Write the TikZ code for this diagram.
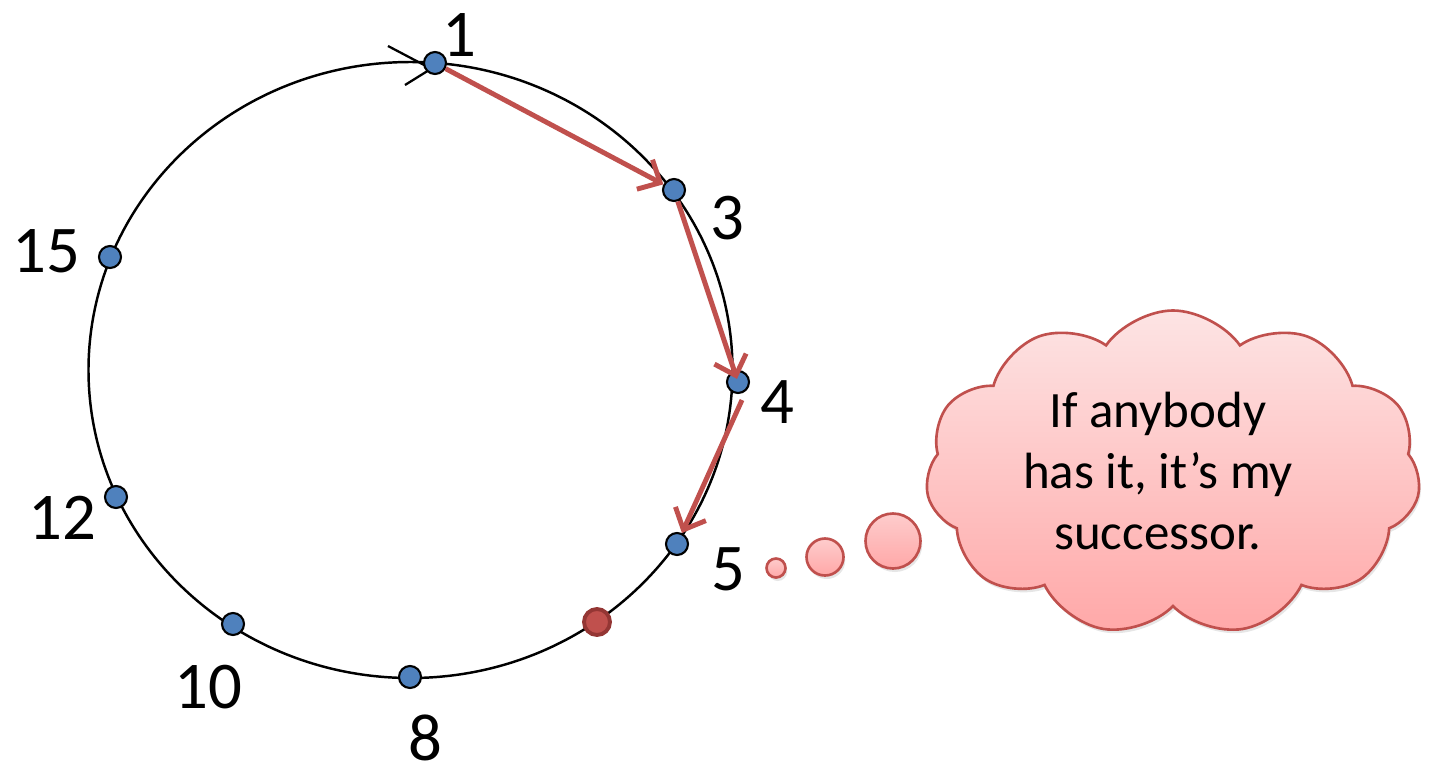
\documentclass[tikz,border=0pt]{standalone}
\usepackage{fontspec}
\setmainfont{Carlito}
\usetikzlibrary{shapes.symbols,arrows.meta,shadows}
\definecolor{nodeblue}{HTML}{4F81BD}
\definecolor{arrred}{HTML}{C0504D}
\definecolor{darkred}{HTML}{943634}
\definecolor{cloudtop}{HTML}{FDE4E4}
\definecolor{cloudbot}{HTML}{FFA8A8}
\begin{document}
\begin{tikzpicture}[x=0.02cm,y=-0.02cm,
  ring/.style={draw=black,line width=1.4pt},
  peer/.style={circle,draw=black,line width=1.2pt,fill=nodeblue,minimum size=22*0.02cm,inner sep=0pt},
  target/.style={circle,draw=darkred,line width=2.2pt,fill=arrred,minimum size=26*0.02cm,inner sep=0pt},
  lbl/.style={font=\fontsize{38}{45}\selectfont,inner sep=0pt,text height=24pt,text depth=0pt},
  hop/.style={draw=arrred,line width=2.8pt,-{Straight Barb[length=10pt,width=19pt,line width=2.8pt]}},
  bubble/.style={circle,draw=arrred,line width=1.5pt,top color=cloudtop!60!cloudbot,bottom color=cloudbot,inner sep=0pt,
    drop shadow={opacity=0.2,shadow xshift=1pt,shadow yshift=-2pt}},
  tick/.style={draw=black,line width=1.3pt}
]
\useasboundingbox (0,0) rectangle (1431,762);
% ring
\draw[ring] (410.5,370) ellipse [x radius=322, y radius=308];
% tick marks at node 1
\coordinate (ta1) at (388,46);
\coordinate (ta2) at (426,66);
\coordinate (tb1) at (405,85);
\coordinate (tb2) at (442,62);
\draw[tick] (ta1) -- (ta2);
\draw[tick] (tb1) -- (tb2);
% peers
\node[peer] (n1) at (435,63) {};
\node[peer] (n3) at (674,190) {};
\node[peer] (n4) at (738,382) {};
\node[peer] (n5) at (677,544) {};
\node[target] (nk) at (597,622) {};
\node[peer] (n8) at (410,677) {};
\node[peer] (n10) at (233,624) {};
\node[peer] (n12) at (116,497) {};
\node[peer] (n15) at (110,257) {};
% labels
\node[lbl] (l1) at (459,35) {1};
\node[lbl] (l3) at (727,218) {3};
\node[lbl] (l4) at (777,402) {4};
\node[lbl] (l5) at (728,569) {5};
\node[lbl] (l8) at (425,739) {8};
\node[lbl] (l10) at (208,687) {10};
\node[lbl] (l12) at (62,518) {12};
\node[lbl] (l15) at (46,251) {15};
% hops
\coordinate (h3s) at (742,400);
\draw[hop] (n1) -- (n3);
\draw[hop,shorten >=-5pt] (n3) -- (n4);
\draw[hop] (h3s) -- (n5);
% thought bubbles
\node[bubble,minimum size=19*0.02cm] (b1) at (776,568) {};
\node[bubble,minimum size=37*0.02cm] (b2) at (825,557) {};
\node[bubble,minimum size=55*0.02cm] (b3) at (893,541) {};
% cloud
\node[cloud,cloud puffs=11,cloud puff arc=110,aspect=1.5,draw=arrred,line width=1.5pt,
  top color=cloudtop,bottom color=cloudbot,minimum width=495*0.02cm,minimum height=325*0.02cm,
  drop shadow={opacity=0.2,shadow xshift=1pt,shadow yshift=-2pt}] (cloud) at (1173,473) {};
\node[font=\fontsize{29}{35}\selectfont,align=center,inner sep=0pt] (txt) at (1158,471)
  {If anybody\\has it, it’s my\\successor.};
\end{tikzpicture}
\end{document}
